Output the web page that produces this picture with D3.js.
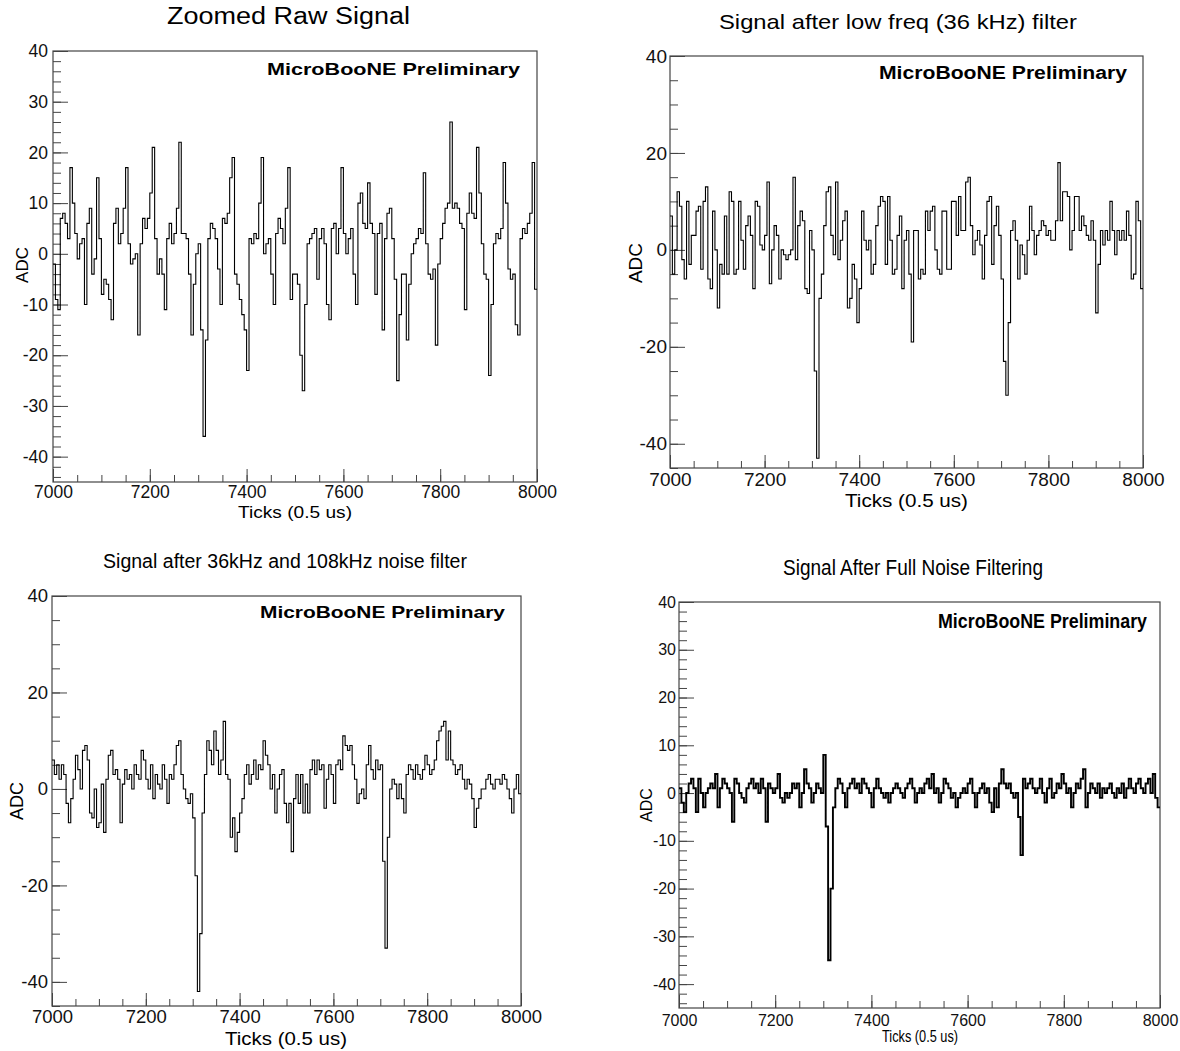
<!DOCTYPE html>
<html>
<head>
<meta charset="utf-8">
<title>MicroBooNE noise filtering</title>
<script src="https://cdn.jsdelivr.net/npm/d3@7"></script>
<style>
  body { margin: 0; background: #fff; }
</style>
</head>
<body>
<svg id="mainsvg" width="1180" height="1051"></svg>
<script>
// one value per 5 ticks (7000 .. 7995)
const binWidth = 5
const rawSignal = [
  -2,-9,-11,7,8,6,3,17,10,4,-1,2,3,-10,6,9,-4,-1,15,3,
  -8,-5,-6,-9,-13,6,9,2,4,9,17,2,-2,-1,0,-16,2,7,5,7,
  12,21,3,-4,-1,-4,-11,3,6,2,4,9,22,4,4,3,-4,-16,-6,0,
  2,-15,-36,-17,3,6,5,3,-3,-10,7,6,8,15,19,-4,-6,-9,-12,-15,
  -23,3,2,4,3,10,19,0,2,3,-4,-10,4,7,5,2,9,17,-9,-4,
  -4,-6,-20,-27,-10,2,3,4,5,-5,3,5,2,-10,-13,5,6,0,5,17,
  4,0,3,5,-4,-10,10,12,6,5,14,6,4,-8,4,6,-15,3,8,9,
  3,-5,-25,-12,-4,-4,-17,-6,0,2,3,5,4,16,2,-4,-5,-3,-18,-2,
  3,6,9,10,26,9,10,9,6,5,-11,8,12,8,7,21,12,2,-4,-5,
  -24,-10,2,4,3,5,18,10,-3,-5,-4,-14,-16,3,5,4,6,8,18,-7
]
const lowFreqFiltered = [
  7,-5,0,12,9,-2,-6,10,-3,3,3,8,9,-4,10,13,-6,-8,8,0,
  -12,-3,-5,7,-5,12,10,-5,-4,10,2,-4,5,7,3,-8,10,9,1,0,
  3,14,-7,0,5,3,-6,0,-1,-2,-1,0,15,-2,5,8,6,-8,-9,4,
  0,-25,-43,-10,-5,5,12,13,3,-1,14,-2,2,6,8,-12,-10,-3,-6,-15,
  -8,8,2,0,2,-5,-3,5,9,11,10,-3,11,2,-5,-4,3,7,-8,2,
  4,-5,-19,4,4,-6,-4,-5,8,4,8,9,0,-4,-5,8,8,-4,-4,10,
  10,3,11,4,4,14,15,5,-1,2,4,1,-6,3,10,11,-3,5,9,3,
  -6,-23,-30,-15,4,6,2,-6,1,-1,-5,2,9,4,-1,3,4,6,5,3,
  4,2,2,6,18,6,12,12,11,0,4,11,11,4,7,5,3,2,6,2,
  -13,-3,4,1,4,2,10,4,-1,4,2,4,2,8,3,-6,-5,10,6,-8
]
const twoFreqFiltered = [
  6,3,5,2,5,3,-3,-7,-2,2,7,4,0,8,9,6,-5,-6,0,-8,
  -7,1,-9,2,7,8,3,4,2,-7,1,4,2,3,0,5,3,2,8,6,
  2,0,5,-2,3,1,0,5,2,-3,3,2,5,9,10,3,0,-2,-3,-1,
  -6,-18,-42,-30,-5,3,10,8,5,12,8,3,6,14,3,2,-10,-6,-13,-9,
  -5,-2,3,5,1,3,6,2,5,4,10,7,5,0,3,-5,0,3,4,-3,
  -7,-3,-13,-2,3,-3,3,-5,1,-5,4,6,3,6,4,5,-4,2,5,3,
  -3,5,6,4,11,9,8,9,5,2,-3,-1,0,-2,5,9,4,2,6,4,
  5,-15,-33,-10,0,2,1,-2,1,-2,-5,3,5,4,2,5,3,2,4,7,
  5,3,4,6,10,12,13,14,6,12,6,5,3,4,5,2,0,2,1,-2,
  -8,-4,-2,0,0,2,3,1,0,2,2,1,3,2,0,-2,-5,0,3,-1
]
const fullFiltered = [
  1,-2,-4,0,2,3,1,-4,3,0,-3,0,1,2,1,4,-3,1,3,2,
  1,0,-6,3,2,0,-1,-2,1,2,3,1,2,0,3,1,-6,2,1,0,
  1,4,-1,-2,0,-1,0,2,1,2,-3,0,5,2,1,-2,0,2,1,0,
  8,-7,-35,-20,-3,1,3,2,0,-3,1,2,3,1,2,0,3,2,1,0,
  -3,1,3,1,0,-1,0,-2,0,1,2,1,0,-1,1,2,3,1,-2,0,
  1,0,2,3,1,4,0,1,-2,0,3,2,1,-1,0,-3,-1,0,1,0,
  2,3,0,-3,0,1,2,0,1,-2,-4,1,-3,2,5,2,1,2,0,-1,
  0,-5,-13,3,1,2,3,1,0,1,3,0,-2,1,3,-1,0,2,1,4,
  2,0,1,-3,0,2,1,3,5,-3,0,2,1,0,2,-1,1,0,1,2,
  0,-1,1,0,2,-1,1,3,1,0,2,3,1,0,2,3,0,4,-1,-3
]

const xMajorTicks = [7000, 7200, 7400, 7600, 7800, 8000]
const xMinorTicks = d3.range(7000, 8001, 50)
const yTicksBy10 = [-40, -30, -20, -10, 0, 10, 20, 30, 40]
const yTicksBy20 = [-40, -20, 0, 20, 40]
const titles = ['Zoomed Raw Signal', 'Signal after low freq (36 kHz) filter',
                'Signal after 36kHz and 108kHz noise filter', 'Signal After Full Noise Filtering']

const baseFont = '"Liberation Sans", Arial, Helvetica, sans-serif'
const narrowFont = '"Liberation Sans Narrow", "Liberation Sans", Arial, sans-serif'
const frameColor = '#444'

const svg = d3.select('#mainsvg')

const panels = [
  {values: rawSignal, title: titles[0], left: 53, right: 537, top: 51, bottom: 482,
   yMajor: yTicksBy10, yMinor: d3.range(-44, 41, 2), tickSize: 17.5, yPad: 5, xPad: 4,
   titleBox: {x: 167, y: 24, size: 23, w: 243}, brand: {x: 267, y: 75, size: 16.5, w: 253},
   yTitle: {x: 28, y: 265, size: 17}, xTitle: {x: 238, y: 517.5, size: 17, w: 114}, lineWidth: 1.1},
  {values: lowFreqFiltered, title: titles[1], left: 670, right: 1143, top: 56, bottom: 468,
   yMajor: yTicksBy20, yMinor: d3.range(-45, 41, 5), tickSize: 19, yPad: 3, xPad: 5,
   titleBox: {x: 719, y: 29, size: 21, w: 358}, brand: {x: 879, y: 79, size: 18, w: 248},
   yTitle: {x: 642, y: 263, size: 19}, xTitle: {x: 845, y: 507, size: 19, w: 123}, lineWidth: 1.1},
  {values: twoFreqFiltered, title: titles[2], left: 52, right: 521, top: 596, bottom: 1006,
   yMajor: yTicksBy20, yMinor: d3.range(-45, 41, 5), tickSize: 18.5, yPad: 4, xPad: 4,
   titleBox: {x: 103, y: 568, size: 19.5, w: 364}, brand: {x: 260, y: 618, size: 16.5, w: 245},
   yTitle: {x: 23, y: 801, size: 18}, xTitle: {x: 225, y: 1045, size: 18.5, w: 122}, lineWidth: 1.1},
  {values: fullFiltered, title: titles[3], left: 679, right: 1160, top: 602, bottom: 1008,
   yMajor: yTicksBy10, yMinor: d3.range(-44, 41, 2), tickSize: 16, yPad: 3, xPad: 7, narrow: true,
   titleBox: {x: 783, y: 575, size: 22, w: 260}, brand: {x: 938, y: 628, size: 20, w: 209},
   yTitle: {x: 652, y: 805, size: 16}, xTitle: {x: 882, y: 1042, size: 16, w: 76}, lineWidth: 1.9}
]

function drawPanel(p) {
  const font = p.narrow ? narrowFont : baseFont
  const x = d3.scaleLinear().domain([7000, 8000]).range([p.left, p.right])
  const y = d3.scaleLinear().domain([-45, 40]).range([p.bottom, p.top])
  const g = svg.append('g')

  // ROOT style: ticks point inward, only on left and bottom
  g.append('g').attr('transform', `translate(${p.left},0)`)
    .call(d3.axisLeft(y).tickValues(p.yMinor).tickSize(-8).tickFormat(''))
  g.append('g').attr('transform', `translate(${p.left},0)`)
    .call(d3.axisLeft(y).tickValues(p.yMajor).tickSize(-15).tickPadding(p.yPad).tickFormat(d => String(d)))
  g.append('g').attr('transform', `translate(0,${p.bottom})`)
    .call(d3.axisBottom(x).tickValues(xMinorTicks).tickSize(-7).tickFormat(''))
  g.append('g').attr('transform', `translate(0,${p.bottom})`)
    .call(d3.axisBottom(x).tickValues(xMajorTicks).tickSize(-13).tickPadding(p.xPad).tickFormat(d => String(d)))

  g.selectAll('.domain').remove()
  g.selectAll('.tick line').attr('stroke', frameColor).attr('stroke-width', 1)
  g.selectAll('.tick text')
    .attr('font-family', font)
    .attr('font-size', p.tickSize)
    .attr('fill', '#111')

  g.append('rect')
    .attr('x', p.left).attr('y', p.top)
    .attr('width', p.right - p.left).attr('height', p.bottom - p.top)
    .attr('fill', 'none').attr('stroke', frameColor).attr('stroke-width', 1.2)

  const pts = p.values.map((v, i) => [7000 + i * binWidth, v])
  pts.push([8000, p.values[p.values.length - 1]])
  const line = d3.line().x(d => x(d[0])).y(d => y(d[1])).curve(d3.curveStepAfter)
  g.append('path')
    .attr('d', line(pts))
    .attr('fill', 'none')
    .attr('stroke', '#000')
    .attr('stroke-width', p.lineWidth)

  // texts
  g.append('text')
    .attr('x', p.titleBox.x).attr('y', p.titleBox.y)
    .attr('font-family', font).attr('font-size', p.titleBox.size)
    .attr('textLength', p.titleBox.w).attr('lengthAdjust', 'spacingAndGlyphs')
    .text(p.title)
  g.append('text')
    .attr('x', p.brand.x).attr('y', p.brand.y)
    .attr('font-family', font).attr('font-size', p.brand.size).attr('font-weight', 'bold')
    .attr('textLength', p.brand.w).attr('lengthAdjust', 'spacingAndGlyphs')
    .text('MicroBooNE Preliminary')
  g.append('text')
    .attr('transform', `translate(${p.yTitle.x},${p.yTitle.y}) rotate(-90)`)
    .attr('text-anchor', 'middle')
    .attr('font-family', font).attr('font-size', p.yTitle.size)
    .text('ADC')
  g.append('text')
    .attr('x', p.xTitle.x).attr('y', p.xTitle.y)
    .attr('font-family', font).attr('font-size', p.xTitle.size)
    .attr('textLength', p.xTitle.w).attr('lengthAdjust', 'spacingAndGlyphs')
    .text('Ticks (0.5 us)')
}

panels.forEach(drawPanel)
</script>
</body>
</html>
